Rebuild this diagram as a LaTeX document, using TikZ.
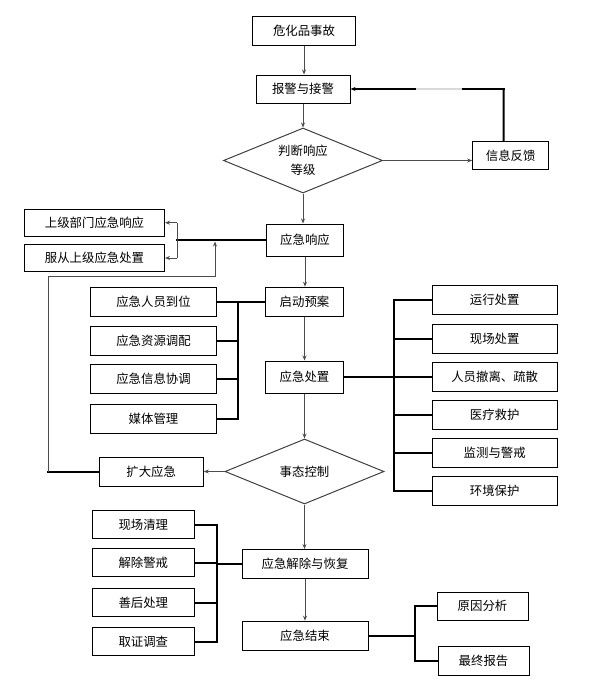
\documentclass[tikz,border=0pt]{standalone}
\usepackage{fontspec}
\setmainfont{Noto Sans CJK SC}
\usetikzlibrary{shapes.geometric,arrows.meta}
\begin{document}
\begin{tikzpicture}[x=1pt,y=-1pt,
  box/.style={draw=black,line width=1pt,inner sep=0pt,font=\fontsize{12.4}{15}\selectfont},
  dia/.style={draw=black!75,line width=1pt,shape=diamond,inner sep=0pt,aspect=2.45,
    minimum width=159pt,minimum height=65pt,align=center,font=\fontsize{12.4}{19}\selectfont},
  arr/.style={draw=black!70,line width=1pt,-{Stealth[length=5pt,width=4pt]}},
  thinl/.style={draw=black!70,line width=1pt},
  bus/.style={draw=black,line width=2pt,line cap=rect},
]
\useasboundingbox (0,0) rectangle (591,693);

% main column
\node[box,minimum width=103pt,minimum height=29pt] (n1) at (304,31) {危化品事故};
\node[box,minimum width=94pt,minimum height=28pt] (n2) at (303,89) {报警与接警};
\node[dia] (d1) at (303,160.5) {判断响应\\等级};
\node[box,minimum width=76pt,minimum height=28pt] (info) at (510.7,155.5) {信息反馈};
\node[box,minimum width=77pt,minimum height=32pt] (resp) at (305,240) {应急响应};
\node[box,minimum width=140pt,minimum height=27pt] (up1) at (94.5,222.7) {上级部门应急响应};
\node[box,minimum width=140pt,minimum height=27pt] (up2) at (94.5,258) {服从上级应急处置};
\node[box,minimum width=78pt,minimum height=29pt] (start) at (304.5,301.7) {启动预案};
\node[box,minimum width=78pt,minimum height=32pt] (act) at (304.5,377) {应急处置};
\node[dia] (d2) at (304.5,471.5) {事态控制};
\node[box,minimum width=104pt,minimum height=29pt] (exp) at (151.2,472) {扩大应急};
\node[box,minimum width=126pt,minimum height=29pt] (rec) at (305,564) {应急解除与恢复};
\node[box,minimum width=126pt,minimum height=29pt] (fin) at (305,635.7) {应急结束};

% left group of start
\node[box,minimum width=126pt,minimum height=29pt] (L1) at (153.5,301.7) {应急人员到位};
\node[box,minimum width=126pt,minimum height=29pt] (L2) at (153.5,340.5) {应急资源调配};
\node[box,minimum width=126pt,minimum height=29pt] (L3) at (153.5,379.2) {应急信息协调};
\node[box,minimum width=126pt,minimum height=29pt] (L4) at (153.5,418.8) {媒体管理};

% right group of act
\node[box,minimum width=125pt,minimum height=29pt] (R1) at (494.7,300.2) {运行处置};
\node[box,minimum width=125pt,minimum height=29pt] (R2) at (494.7,338.7) {现场处置};
\node[box,minimum width=125pt,minimum height=29pt] (R3) at (494.7,376.7) {人员撤离、疏散};
\node[box,minimum width=125pt,minimum height=29pt] (R4) at (494.7,415) {医疗救护};
\node[box,minimum width=125pt,minimum height=29pt] (R5) at (494.7,452.7) {监测与警戒};
\node[box,minimum width=125pt,minimum height=29pt] (R6) at (494.7,490.5) {环境保护};

% left group of rec
\node[box,minimum width=102pt,minimum height=28pt] (C1) at (143.3,524.5) {现场清理};
\node[box,minimum width=102pt,minimum height=28pt] (C2) at (143.3,562.8) {解除警戒};
\node[box,minimum width=102pt,minimum height=28pt] (C3) at (143.3,602.5) {善后处理};
\node[box,minimum width=102pt,minimum height=28pt] (C4) at (143.3,641.7) {取证调查};

% right group of fin
\node[box,minimum width=91pt,minimum height=28pt] (F1) at (482.5,606) {原因分析};
\node[box,minimum width=91pt,minimum height=29pt] (F2) at (483.5,660.5) {最终报告};

% main vertical arrows
\draw[arr] (n1.south) -- (n1.south |- n2.north);
\draw[arr] (n2.south) -- (n2.south |- d1.north);
\draw[arr] (d1.south) -- (d1.south |- resp.north);
\draw[arr] (resp.south) -- (resp.south |- start.north);
\draw[arr] (start.south) -- (start.south |- act.north);
\draw[arr] (act.south) -- (act.south |- d2.north);
\draw[arr] (d2.south) -- (d2.south |- rec.north);
\draw[arr] (rec.south) -- (rec.south |- fin.north);

% feedback loop
\draw[arr] (d1.east) -- (d1.east -| info.west);
\coordinate (fb) at (503.6,89);
\draw[line width=2pt] ([xshift=-7.1pt]info.north) -- ([yshift=0.65pt]fb);
\draw[line width=1.3pt,-{Stealth[length=5pt,width=4pt]}] ([xshift=1pt]fb) -- (n2.east);
\coordinate (g1) at (416,89);
\coordinate (g2) at (462,89);
\draw[line width=1.3pt,black!15] (g1) -- (g2);

% response to upper level
\coordinate (j1) at (177,240);
\draw[bus] (resp.west) -- (j1);
\draw[thinl] (j1 |- up1.east) -- (j1 |- up2.east);
\draw[arr] (j1 |- up1.east) -- (up1.east);
\draw[arr] (j1 |- up2.east) -- (up2.east);

% expand loop
\coordinate (e1) at (48,472);
\coordinate (e2) at (48,276.7);
\coordinate (e3) at (215,276.7);
\draw[arr] (d2.west) -- (d2.west -| exp.east);
\draw[bus] (exp.west) -- (e1);
\draw[arr,shorten >=1.5pt] (e1) -- (e2) -- (e3) -- (e3 |- resp.west);

% start bus
\coordinate (bl) at (238.4,301.7);
\draw[bus] (start.west) -- (L1.east);
\draw[bus] (bl) -- (bl |- L4.east);
\draw[bus] (L2.east) -- (L2.east -| bl);
\draw[bus] (L3.east) -- (L3.east -| bl);
\draw[bus] (L4.east) -- (L4.east -| bl);

% act bus
\coordinate (br) at (394.3,377);
\draw[bus] (act.east) -- (act.east -| br);
\draw[bus] (br |- R1.west) -- (br |- R6.west);
\draw[bus] (R1.west) -- (R1.west -| br);
\draw[bus] (R2.west) -- (R2.west -| br);
\draw[bus] (R3.west) -- (R3.west -| br);
\draw[bus] (R4.west) -- (R4.west -| br);
\draw[bus] (R5.west) -- (R5.west -| br);
\draw[bus] (R6.west) -- (R6.west -| br);

% rec bus
\coordinate (bc) at (216.6,564);
\draw[bus] (rec.west) -- (rec.west -| bc);
\draw[bus] (bc |- C1.east) -- (bc |- C4.east);
\draw[bus] (C1.east) -- (C1.east -| bc);
\draw[bus] (C2.east) -- (C2.east -| bc);
\draw[bus] (C3.east) -- (C3.east -| bc);
\draw[bus] (C4.east) -- (C4.east -| bc);

% fin bus
\coordinate (bf) at (415.4,635.7);
\draw[bus] (fin.east) -- (fin.east -| bf);
\draw[bus] (bf |- F1.west) -- (bf |- F2.west);
\draw[bus] (F1.west) -- (F1.west -| bf);
\draw[bus] (F2.west) -- (F2.west -| bf);
\end{tikzpicture}
\end{document}
